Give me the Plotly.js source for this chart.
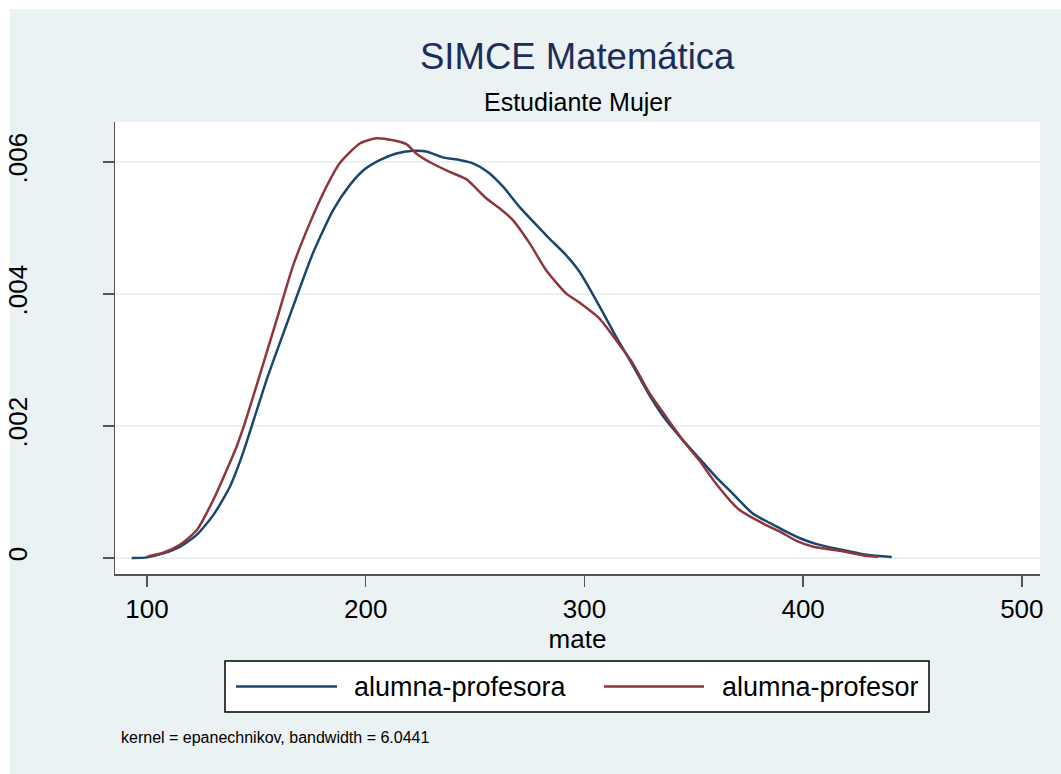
<!DOCTYPE html>
<html>
<head>
<meta charset="utf-8">
<script src="https://cdn.plot.ly/plotly-3.0.1.min.js"></script>
<style>
html, body { margin: 0; padding: 0; background: #ffffff; }
#chart { position: absolute; left: 0; top: 0; width: 1061px; height: 774px; }
</style>
</head>
<body>
<div id="chart"></div>
<script>
// alumna-profesora (blue)
const profesoraX = [93, 100, 107.4, 115, 122.7, 130.3, 137.9, 144, 147.9, 154.7, 164.5, 175.9, 185.1, 192.7, 199.5, 206.4, 214, 221.6, 227.7, 235.3, 242.9, 249, 255.8, 262.7, 270.3, 277.9, 284, 291.6, 297.7, 306.8, 314.5, 322.1, 329.7, 337.3, 344.9, 352.5, 360.1, 367.7, 376.8, 389.4, 398.6, 406.2, 416.9, 429.1, 440.5];
const profesoraY = [0, 0.00001, 0.00007, 0.00017, 0.00035, 0.00065, 0.00108, 0.0016, 0.002, 0.0027, 0.0036, 0.00462, 0.00527, 0.00565, 0.00589, 0.00603, 0.00613, 0.00617, 0.00616, 0.00607, 0.00603, 0.00598, 0.00585, 0.00563, 0.00532, 0.00505, 0.00484, 0.00459, 0.00434, 0.00382, 0.00335, 0.00292, 0.00247, 0.00209, 0.00179, 0.00151, 0.00123, 0.00098, 0.00068, 0.00045, 0.0003, 0.00021, 0.00013, 0.00005, 0.000015];

// alumna-profesor (red)
const profesorX = [100, 107.4, 115, 122.7, 130.3, 136.4, 141, 144.8, 150.9, 159.2, 166.8, 174.4, 182.1, 188.1, 197.3, 204.9, 212.5, 218.6, 223.1, 229.2, 238.4, 246, 250.5, 255.1, 261.2, 267.3, 274.9, 282.5, 291.6, 297.7, 306.8, 314.5, 322.1, 329.7, 337.3, 344.9, 352.5, 360.1, 370.8, 383, 389.4, 397, 404.7, 416.9, 427.5, 434.4];
const profesorY = [0.00002, 0.00008, 0.0002, 0.00042, 0.00088, 0.00133, 0.00169, 0.00205, 0.0027, 0.0036, 0.00443, 0.00507, 0.00563, 0.00598, 0.00628, 0.00636, 0.00633, 0.00627, 0.00613, 0.0060, 0.00585, 0.00574, 0.0056, 0.00545, 0.0053, 0.00512, 0.00477, 0.00436, 0.00401, 0.00387, 0.00363, 0.0033, 0.00295, 0.0025, 0.00214, 0.00179, 0.00148, 0.00113, 0.00073, 0.0005, 0.0004, 0.00026, 0.00017, 0.00011, 0.00004, 0.00002];

const xTicks = [100, 200, 300, 400, 500];
const yTicks = [0, 0.002, 0.004, 0.006];
const yTickLabels = ['0', '.002', '.004', '.006'];

const seriesNames = ['alumna-profesora', 'alumna-profesor'];
const seriesColors = ['#1a476f', '#90353b'];

const FONT = 'Liberation Sans, Arial, Helvetica, sans-serif';
const BG = '#eaf2f3';

// plot area in page pixels: left 115, right 1040, top 122, bottom 574
const PL = 115, PT = 122, PW = 925, PH = 452;
const px = v => (v - PL) / PW;          // page x -> paper x
const py = v => (PT + PH - v) / PH;     // page y -> paper y

const traces = [
  { x: profesoraX, y: profesoraY, name: seriesNames[0], type: 'scatter', mode: 'lines',
    line: { color: seriesColors[0], width: 2.5, shape: 'spline', smoothing: 0.6 } },
  { x: profesorX, y: profesorY, name: seriesNames[1], type: 'scatter', mode: 'lines',
    line: { color: seriesColors[1], width: 2.5, shape: 'spline', smoothing: 0.6 } }
];

// legend (drawn as layout decoration, Stata-style long keys)
const legY = py(686.5);
const legendShapes = [
  { type: 'rect', xref: 'paper', yref: 'paper', x0: px(225), x1: px(929), y0: py(712), y1: py(661),
    fillcolor: '#ffffff', line: { color: '#000000', width: 1.5 }, layer: 'above' },
  { type: 'line', xref: 'paper', yref: 'paper', x0: px(236), x1: px(337), y0: legY, y1: legY,
    line: { color: seriesColors[0], width: 2.5 }, layer: 'above' },
  { type: 'line', xref: 'paper', yref: 'paper', x0: px(604), x1: px(704), y0: legY, y1: legY,
    line: { color: seriesColors[1], width: 2.5 }, layer: 'above' }
];
const legendTexts = [
  { text: seriesNames[0], xref: 'paper', yref: 'paper', x: px(352), y: legY,
    xanchor: 'left', yanchor: 'middle', showarrow: false,
    font: { family: FONT, size: 27, color: '#000000' } },
  { text: seriesNames[1], xref: 'paper', yref: 'paper', x: px(720), y: legY,
    xanchor: 'left', yanchor: 'middle', showarrow: false,
    font: { family: FONT, size: 27, color: '#000000' } }
];

const layout = {
  width: 1061, height: 774,
  paper_bgcolor: '#ffffff',
  plot_bgcolor: 'rgba(0,0,0,0)',
  margin: { l: 115, r: 21, t: 122, b: 200, pad: 0 },
  font: { family: FONT, color: '#000000', size: 26 },
  showlegend: false,
  xaxis: {
    range: [85.37, 508.3], tickvals: xTicks, ticktext: xTicks.map(String),
    showgrid: false, zeroline: false,
    showline: true, linecolor: '#555555', linewidth: 1.5,
    ticks: 'outside', ticklen: 11, tickwidth: 1.5, tickcolor: '#555555',
    tickfont: { family: FONT, size: 26, color: '#000000' },
    title: { text: 'mate', font: { family: FONT, size: 26, color: '#000000' }, standoff: 0 }
  },
  yaxis: {
    range: [-0.000242, 0.006606], tickvals: yTicks, ticktext: yTickLabels,
    tickangle: -90,
    showgrid: true, gridcolor: BG, gridwidth: 2, zeroline: false,
    showline: true, linecolor: '#555555', linewidth: 1.5,
    ticks: 'outside', ticklen: 11, tickwidth: 1.5, tickcolor: '#555555',
    tickfont: { family: FONT, size: 26, color: '#000000' },
    ticklabelstandoff: 65
  },
  shapes: [
    { type: 'rect', xref: 'paper', yref: 'paper', x0: px(10), x1: px(1075), y0: py(790), y1: py(9),
      fillcolor: BG, line: { width: 0 }, layer: 'below' },
    { type: 'rect', xref: 'paper', yref: 'paper', x0: 0, x1: 1, y0: 0, y1: 1,
      fillcolor: '#ffffff', line: { width: 0 }, layer: 'below' }
  ].concat(legendShapes),
  annotations: [
    { text: 'SIMCE Matemática', xref: 'paper', yref: 'paper', x: 0.5, y: py(56.5),
      xanchor: 'center', yanchor: 'middle', showarrow: false,
      font: { family: FONT, size: 36.5, color: '#1c2d5a' } },
    { text: 'Estudiante Mujer', xref: 'paper', yref: 'paper', x: 0.5, y: py(102.5),
      xanchor: 'center', yanchor: 'middle', showarrow: false,
      font: { family: FONT, size: 25, color: '#000000' } },
    { text: 'kernel = epanechnikov, bandwidth = 6.0441', xref: 'paper', yref: 'paper',
      x: px(119), y: py(737), xanchor: 'left', yanchor: 'middle', showarrow: false,
      font: { family: FONT, size: 16, color: '#000000' } }
  ].concat(legendTexts)
};

Plotly.newPlot('chart', traces, layout, { displayModeBar: false, staticPlot: true });
</script>
</body>
</html>
